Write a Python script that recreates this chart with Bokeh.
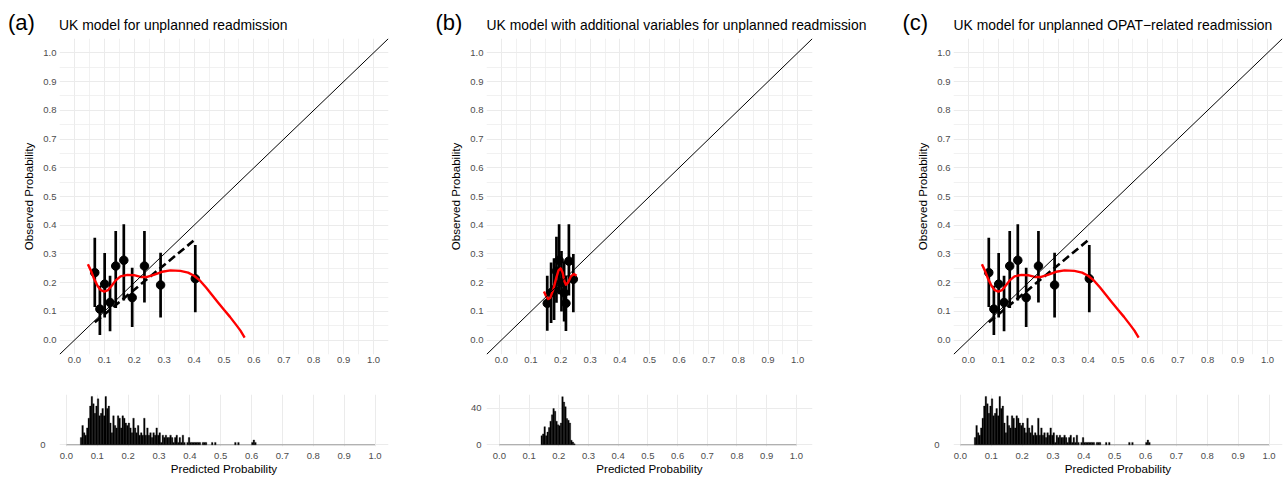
from bokeh.plotting import figure
from bokeh.layouts import row, column
from bokeh.models import Range1d, FixedTicker, NumeralTickFormatter, Slope
from bokeh.core.properties import value
from bokeh.embed import file_html
from bokeh.resources import INLINE

FONT = "Liberation Sans"

# ---------------- data ----------------
axis_ticks = [0.0, 0.1, 0.2, 0.3, 0.4, 0.5, 0.6, 0.7, 0.8, 0.9, 1.0]
axis_minor = [-0.05, 0.05, 0.15, 0.25, 0.35, 0.45, 0.55, 0.65, 0.75, 0.85, 0.95, 1.05]
hist_x_limits = [0.0, 1.0]

panel_letters = ["(a)", "(b)", "(c)"]
panel_titles = [
    "UK model for unplanned readmission",
    "UK model with additional variables for unplanned readmission",
    "UK model for unplanned OPAT\u2212related readmission",
]

# UK model (panels a and c): grouped observations with CIs
uk_pred = [0.068, 0.085, 0.101, 0.119, 0.138, 0.165, 0.193, 0.234, 0.288, 0.404]
uk_obs = [0.235, 0.108, 0.195, 0.131, 0.258, 0.278, 0.148, 0.258, 0.192, 0.214]
uk_lo = [0.115, 0.018, 0.079, 0.031, 0.112, 0.138, 0.046, 0.131, 0.079, 0.097]
uk_hi = [0.356, 0.189, 0.303, 0.224, 0.380, 0.403, 0.252, 0.380, 0.304, 0.331]
uk_lin_x = [0.068, 0.405]
uk_lin_y = [0.062, 0.352]
uk_flex_x = [0.045, 0.055, 0.065, 0.077, 0.088, 0.100, 0.112, 0.125, 0.138, 0.154,
             0.177, 0.199, 0.221, 0.243, 0.265, 0.293, 0.321, 0.354, 0.380, 0.400,
             0.420, 0.440, 0.460, 0.480, 0.500, 0.520, 0.540, 0.555, 0.569]
uk_flex_y = [0.264, 0.242, 0.215, 0.189, 0.174, 0.169, 0.174, 0.190, 0.208, 0.222,
             0.227, 0.226, 0.220, 0.220, 0.227, 0.238, 0.243, 0.241, 0.235, 0.224,
             0.207, 0.183, 0.157, 0.131, 0.106, 0.081, 0.054, 0.033, 0.009]
uk_hist_bin = [0.045, 0.050, 0.055, 0.060, 0.065, 0.070, 0.075, 0.080, 0.085, 0.090,
               0.095, 0.100, 0.105, 0.110, 0.115, 0.120, 0.125, 0.130, 0.135, 0.140,
               0.145, 0.150, 0.155, 0.160, 0.165, 0.170, 0.175, 0.180, 0.185, 0.190,
               0.195, 0.200, 0.205, 0.210, 0.215, 0.220, 0.225, 0.230, 0.235, 0.240,
               0.245, 0.250, 0.255, 0.260, 0.265, 0.270, 0.275, 0.280, 0.285, 0.290,
               0.295, 0.300, 0.305, 0.310, 0.315, 0.320, 0.325, 0.330, 0.335, 0.340,
               0.345, 0.350, 0.355, 0.360, 0.365, 0.370, 0.375, 0.380, 0.390, 0.395,
               0.400, 0.405, 0.410, 0.415, 0.420, 0.425, 0.430, 0.440, 0.445, 0.450,
               0.470, 0.480, 0.545, 0.555, 0.600, 0.605, 0.610]
uk_hist_count = [3, 8, 5, 4, 7, 11, 16, 20, 17, 13,
                 16, 19, 12, 13, 15, 12, 20, 15, 16, 9,
                 5, 12, 8, 7, 12, 11, 7, 12, 11, 9,
                 8, 9, 7, 5, 11, 7, 5, 8, 4, 5,
                 4, 11, 4, 7, 4, 5, 3, 5, 4, 7,
                 4, 5, 1, 4, 3, 4, 3, 3, 4, 3,
                 1, 3, 4, 1, 3, 1, 4, 1, 1, 3,
                 1, 1, 1, 1, 1, 1, 1, 1, 1, 1,
                 1, 1, 1, 1, 1, 2, 1]
uk_hist_yticks = [0]

# UK model with additional variables (panel b)
add_pred = [0.155, 0.168, 0.178, 0.186, 0.195, 0.203, 0.212, 0.218, 0.228, 0.243]
add_obs = [0.128, 0.165, 0.175, 0.240, 0.278, 0.200, 0.165, 0.128, 0.275, 0.212]
add_lo = [0.033, 0.060, 0.070, 0.130, 0.160, 0.100, 0.065, 0.032, 0.155, 0.097]
add_hi = [0.224, 0.270, 0.285, 0.360, 0.403, 0.310, 0.275, 0.225, 0.403, 0.300]
add_flex_x = [0.144, 0.150, 0.158, 0.165, 0.175, 0.185, 0.193, 0.200, 0.207, 0.213,
              0.218, 0.225, 0.235, 0.245, 0.254]
add_flex_y = [0.169, 0.155, 0.143, 0.147, 0.175, 0.215, 0.243, 0.250, 0.235, 0.205,
              0.193, 0.200, 0.222, 0.230, 0.224]
add_hist_bin = [0.140, 0.145, 0.150, 0.155, 0.160, 0.165, 0.170, 0.175, 0.180, 0.185,
                0.190, 0.195, 0.200, 0.205, 0.210, 0.215, 0.220, 0.225, 0.230, 0.235,
                0.240, 0.245, 0.250]
add_hist_count = [10, 12, 20, 10, 14, 19, 26, 33, 40, 37,
                  26, 22, 21, 24, 53, 47, 42, 29, 27, 24,
                  5, 3, 1]
add_hist_yticks = [0, 40]

BIN_W = 0.005

# ---------------- layout constants (pixels) ----------------
TOTAL_W = 1284
HEAD_H = 38
TOP_H = 336
TOP_FRAME_H = 316
HIST_H = 104
HIST_TOP = 20
HIST_FRAME_H = 52
PANEL_X = [0, 427.5, 894.5]     # left offset of each panel
PANEL_W = [427, 467, 390]


def style_axis(ax, standoff):
    ax.axis_line_color = None
    ax.major_tick_line_color = None
    ax.minor_tick_line_color = None
    ax.major_tick_out = 0
    ax.major_tick_in = 0
    ax.minor_tick_out = 0
    ax.minor_tick_in = 0
    ax.major_label_text_font = FONT
    ax.major_label_text_font_size = "9.5px"
    ax.major_label_text_color = "#4D4D4D"
    ax.major_label_standoff = standoff
    ax.axis_label_text_font = FONT
    ax.axis_label_text_font_size = "11.6px"
    ax.axis_label_text_font_style = "normal"
    ax.axis_label_text_color = "black"


# header strip with panel letters and titles
hd = figure(width=TOTAL_W, height=HEAD_H, x_range=Range1d(0, TOTAL_W), y_range=Range1d(0, HEAD_H),
            x_axis_type=None, y_axis_type=None, min_border=0,
            min_border_left=0, min_border_right=0, min_border_top=0, min_border_bottom=0,
            toolbar_location=None, output_backend="svg")
hd.outline_line_color = None
hd.text(x=[px + 7.5 for px in PANEL_X], y=[15.6] * 3, text=panel_letters,
        text_font=value(FONT), text_font_size=value("22px"), text_color="black",
        text_align="left", text_baseline="middle")
hd.text(x=[px + 58.5 for px in PANEL_X], y=[13.3] * 3, text=panel_titles,
        text_font=value(FONT), text_font_size=value("13.9px"), text_color="black",
        text_align="left", text_baseline="middle")


def make_panel(W, top_left, top_fw, hist_xr, hist_ystand,
               pred, obs, lo, hi, flex_x, flex_y, lin_x, lin_y,
               hbin, hcount, hticks, hyr):
    p = figure(width=W, height=TOP_H,
               x_range=Range1d(-0.05, 1.05), y_range=Range1d(-0.05, 1.05),
               min_border_left=top_left, min_border_right=W - top_left - top_fw,
               min_border_top=0, min_border_bottom=TOP_H - TOP_FRAME_H,
               toolbar_location=None, output_backend="svg")
    p.outline_line_color = None
    for ax in (p.xaxis[0], p.yaxis[0]):
        ax.ticker = FixedTicker(ticks=axis_ticks, minor_ticks=axis_minor)
        ax.formatter = NumeralTickFormatter(format="0.0")
    style_axis(p.xaxis[0], 2)
    style_axis(p.yaxis[0], 3)
    p.yaxis[0].axis_label = "Observed Probability"
    p.yaxis[0].axis_label_standoff = 5
    for g in (p.xgrid[0], p.ygrid[0]):
        g.grid_line_color = "#EBEBEB"
        g.grid_line_width = 1
        g.minor_grid_line_color = "#EEEEEE"
        g.minor_grid_line_width = 0.8

    p.add_layout(Slope(gradient=1, y_intercept=0, line_color="black", line_width=1))
    if lin_x is not None:
        p.line(lin_x, lin_y, line_color="black", line_width=2.6, line_dash="8 4")
    p.segment(x0=pred, y0=lo, x1=pred, y1=hi, line_color="black", line_width=2.7)
    p.scatter(pred, obs, size=8.5, color="black")
    p.line(flex_x, flex_y, line_color="#FF0000", line_width=2.4, line_join="round")

    h = figure(width=W, height=HIST_H,
               x_range=Range1d(hist_xr[0], hist_xr[1]), y_range=Range1d(hyr[0], hyr[1]),
               min_border_left=top_left, min_border_right=W - top_left - top_fw,
               min_border_top=HIST_TOP, min_border_bottom=HIST_H - HIST_TOP - HIST_FRAME_H,
               toolbar_location=None, output_backend="svg")
    h.outline_line_color = None
    h.xaxis[0].ticker = FixedTicker(ticks=axis_ticks, minor_ticks=[])
    h.xaxis[0].formatter = NumeralTickFormatter(format="0.0")
    h.yaxis[0].ticker = FixedTicker(ticks=hticks, minor_ticks=[])
    style_axis(h.xaxis[0], 6)
    style_axis(h.yaxis[0], hist_ystand)
    h.xaxis[0].axis_label = "Predicted Probability"
    h.xaxis[0].axis_label_standoff = 0
    for g in (h.xgrid[0], h.ygrid[0]):
        g.grid_line_color = "#EBEBEB"
        g.grid_line_width = 1
    h.segment(x0=[hist_x_limits[0]], y0=[0], x1=[hist_x_limits[1]], y1=[0],
              line_color="#9A9A9A", line_width=1)
    centers = [b + BIN_W / 2 for b in hbin]
    h.vbar(x=centers, top=hcount, bottom=0, width=BIN_W,
           fill_color="black", line_color="black", line_width=0.3)
    return column(p, h)


col_a = make_panel(PANEL_W[0], 59, 329, (-0.0224, 1.0437), 14,
                   uk_pred, uk_obs, uk_lo, uk_hi, uk_flex_x, uk_flex_y, uk_lin_x, uk_lin_y,
                   uk_hist_bin, uk_hist_count, uk_hist_yticks, (-0.7, 20.8))
col_b = make_panel(PANEL_W[1], 59, 326, (-0.0434, 1.0542), 5,
                   add_pred, add_obs, add_lo, add_hi, add_flex_x, add_flex_y, None, None,
                   add_hist_bin, add_hist_count, add_hist_yticks, (-1.9, 55.4))
col_c = make_panel(PANEL_W[2], 59, 329, (-0.0224, 1.0437), 14,
                   uk_pred, uk_obs, uk_lo, uk_hi, uk_flex_x, uk_flex_y, uk_lin_x, uk_lin_y,
                   uk_hist_bin, uk_hist_count, uk_hist_yticks, (-0.7, 20.8))

layout = column(hd, row(col_a, col_b, col_c))
open("out.html", "w").write(file_html(layout, INLINE))
